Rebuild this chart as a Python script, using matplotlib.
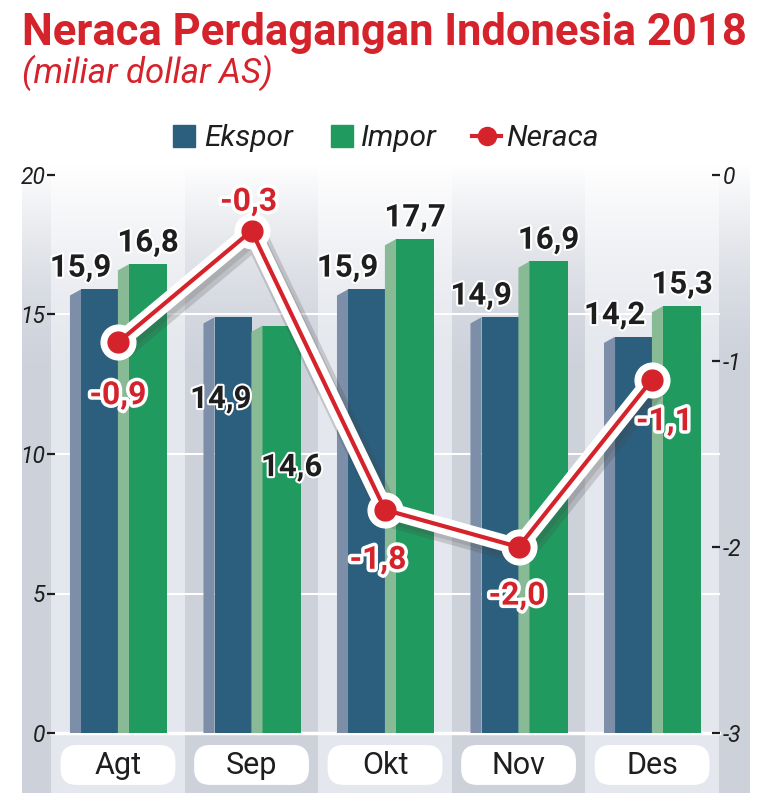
import numpy as np
import matplotlib
matplotlib.use('Agg')
import matplotlib.pyplot as plt
from matplotlib.patches import Polygon, FancyBboxPatch, Rectangle
from matplotlib.lines import Line2D
import matplotlib.patheffects as pe

# data (miliar dollar AS)
bulan = ['Agt', 'Sep', 'Okt', 'Nov', 'Des']
ekspor = [15.9, 14.9, 15.9, 14.9, 14.2]
impor = [16.8, 14.6, 17.7, 16.9, 15.3]
neraca = [-0.9, -0.3, -1.8, -2.0, -1.1]
yticks_kiri = [0, 5, 10, 15, 20]
yticks_kanan = [0, -1, -2, -3]

MERAH = '#d5232c'
BIRU, BIRU_SISI = '#2c5f7e', '#7c8ea8'
HIJAU, HIJAU_SISI = '#219a5f', '#88bb95'
GELAP = '#1e1e1e'
BAND_TERANG, BAND_GELAP = '#e4e7ed', '#cdd1da'

plt.rcParams['font.family'] = ['Roboto', 'DejaVu Sans']

W, H = 769, 800
fig = plt.figure(figsize=(W / 100, H / 100), dpi=100)


def fx(px):
    return px / W


def fy(py):
    return 1 - py / H


ax = fig.add_axes([fx(55), fy(733), fx(712) - fx(55), fy(175) - fy(733)])
ax.set_xlim(-0.472, 4.449)
ax.set_ylim(0, 20)
x = np.arange(len(bulan))

# background columns (alternating shades), drawn outside the axes box
y_bawah, y_atas = -2.15, 20.36
ax.add_patch(Rectangle((-0.719, y_bawah), 0.219, y_atas - y_bawah, color=BAND_GELAP,
                       zorder=0, clip_on=False, lw=0))
for i in x:
    warna = BAND_TERANG if i % 2 == 0 else BAND_GELAP
    ax.add_patch(Rectangle((i - 0.5, y_bawah), 1.0, y_atas - y_bawah, color=warna,
                           zorder=0, clip_on=False, lw=0))
ax.add_patch(Rectangle((4.5, y_bawah), 0.234, y_atas - y_bawah, color=BAND_GELAP,
                       zorder=0, clip_on=False, lw=0))

# fade to white at the top
t = np.linspace(1, 0, 200) ** 1.6
grad = np.ones((200, 1, 4))
grad[:, 0, 3] = t
ax.imshow(grad, extent=[-0.72, 4.735, 12.5, y_atas], aspect='auto', zorder=0.5,
          clip_on=False, interpolation='bilinear')
ax.set_xlim(-0.472, 4.449)
ax.set_ylim(0, 20)

for v in [5, 10, 15]:
    ax.plot([-0.5, 4.5], [v, v], color='white', lw=1.5, zorder=1, clip_on=False)
ax.plot([-0.5, 4.5], [0, 0], color='white', lw=2.5, zorder=1, clip_on=False)

# bars with a lighter side face
sisi = 0.083
miring = 0.22
ax.bar(x - 0.1385, ekspor, width=0.277, color=BIRU, zorder=3, lw=0)
ax.bar(x + 0.2245, impor, width=0.285, color=HIJAU, zorder=3, lw=0)
for i in x:
    xe = i - 0.277
    ax.add_patch(Polygon([(xe - sisi, 0), (xe - sisi, ekspor[i] - miring), (xe, ekspor[i]), (xe, 0)],
                         closed=True, color=BIRU_SISI, lw=0, zorder=3))
    xi = i + 0.082
    ax.add_patch(Polygon([(xi - sisi, 0), (xi - sisi, impor[i] - miring), (xi, impor[i]), (xi, 0)],
                         closed=True, color=HIJAU_SISI, lw=0, zorder=3))

# bar value labels
garis_putih = [pe.withStroke(linewidth=3, foreground='white')]
for i in x:
    if bulan[i] == 'Sep':
        pos_e = (i - 0.23, 11.97)
        pos_i = (i + 0.30, 9.53)
    else:
        pos_e = (i - 0.28, ekspor[i] + 0.78)
        pos_i = (i + 0.225, impor[i] + 0.78)
    ax.text(*pos_e, f'{ekspor[i]:.1f}'.replace('.', ','), ha='center', va='center',
            fontsize=22.5, fontweight='bold', color=GELAP, zorder=6, path_effects=garis_putih)
    ax.text(*pos_i, f'{impor[i]:.1f}'.replace('.', ','), ha='center', va='center',
            fontsize=22.5, fontweight='bold', color=GELAP, zorder=6, path_effects=garis_putih)

# category boxes
for i in x:
    ax.add_patch(FancyBboxPatch((i - 0.43, -1.86), 0.86, 1.43,
                                boxstyle='round,pad=0,rounding_size=0.12',
                                mutation_aspect=133.5 / 27.9, fc='white', ec='none',
                                zorder=4, clip_on=False))
    ax.text(i, -1.17, bulan[i], ha='center', va='center', fontsize=22, color=GELAP,
            zorder=5, clip_on=False)

# left axis
ax.set_xticks([])
ax.set_yticks(yticks_kiri)
ax.set_yticklabels([str(v) for v in yticks_kiri])
ax.tick_params(axis='y', length=6, width=1.6, color=GELAP, pad=1, labelsize=16.5, labelcolor=GELAP)
for lbl in ax.get_yticklabels():
    lbl.set_fontstyle('italic')
for s in ax.spines.values():
    s.set_visible(False)

# right axis for Neraca
ax2 = ax.twinx()
ax2.set_ylim(-3, 0)
ax2.set_yticks(yticks_kanan)
ax2.set_yticklabels(['0'] + [f'-{abs(v)}' for v in yticks_kanan[1:]])
ax2.tick_params(axis='y', length=6, width=1.6, color=GELAP, pad=2, labelsize=16.5, labelcolor=GELAP)
for lbl in ax2.get_yticklabels():
    lbl.set_fontstyle('italic')
for s in ax2.spines.values():
    s.set_visible(False)
ax2.patch.set_visible(False)

bayangan = [pe.SimpleLineShadow(offset=(3, -4), shadow_color='#444444', alpha=0.2, linewidth=17),
            pe.SimpleLineShadow(offset=(2, -3), shadow_color='#444444', alpha=0.15, linewidth=13),
            pe.Normal()]
ax2.plot(x, neraca, color='white', lw=12, solid_joinstyle='round', solid_capstyle='round',
         zorder=7, path_effects=bayangan)
ax2.plot(x, neraca, linestyle='none', marker='o', ms=25, mfc='white', mec='white', zorder=7)
ax2.plot(x, neraca, color=MERAH, lw=3, zorder=8)
ax2.plot(x, neraca, linestyle='none', marker='o', ms=15, mfc=MERAH, mec=MERAH, zorder=9)

# Neraca labels (offsets in points)
geser = [(0, -38), (-2, 21), (-5, -36), (-1, -35), (9, -30)]
for i in x:
    ax2.annotate(f'{neraca[i]:.1f}'.replace('.', ','), (x[i], neraca[i]), xytext=geser[i],
                 textcoords='offset points', ha='center', va='center', fontsize=23,
                 fontweight='bold', color=MERAH, zorder=10,
                 path_effects=[pe.withStroke(linewidth=5, foreground='white')])

# title and subtitle, fitted to the reference width
fig.canvas.draw()
rend = fig.canvas.get_renderer()
judul = fig.text(fx(22), fy(45), 'Neraca Perdagangan Indonesia 2018', fontsize=30,
                 fontweight='bold', color=MERAH, ha='left', va='baseline')
sub = fig.text(fx(22), fy(83), '(miliar dollar AS)', fontsize=20, fontstyle='italic',
               color=MERAH, ha='left', va='baseline')
for teks, lebar in [(judul, 725), (sub, 250)]:
    w = teks.get_window_extent(rend).width
    teks.set_fontsize(teks.get_fontsize() * lebar / w)

# legend
handles = [Line2D([], [], ls='none', marker='s', ms=16, mfc=BIRU, mec=BIRU),
           Line2D([], [], ls='none', marker='s', ms=16, mfc=HIJAU, mec=HIJAU),
           Line2D([], [], color=MERAH, lw=3, marker='o', ms=13, mfc=MERAH, mec=MERAH)]
fig.legend(handles, ['Ekspor', 'Impor', 'Neraca'], loc='center',
           bbox_to_anchor=(fx(384), fy(138)), ncol=3, frameon=False,
           prop=dict(style='italic', size=21.5), labelcolor=GELAP,
           handlelength=1.0, handletextpad=0.15, columnspacing=1.15)

fig.savefig('out.png', dpi=100, facecolor='white')
